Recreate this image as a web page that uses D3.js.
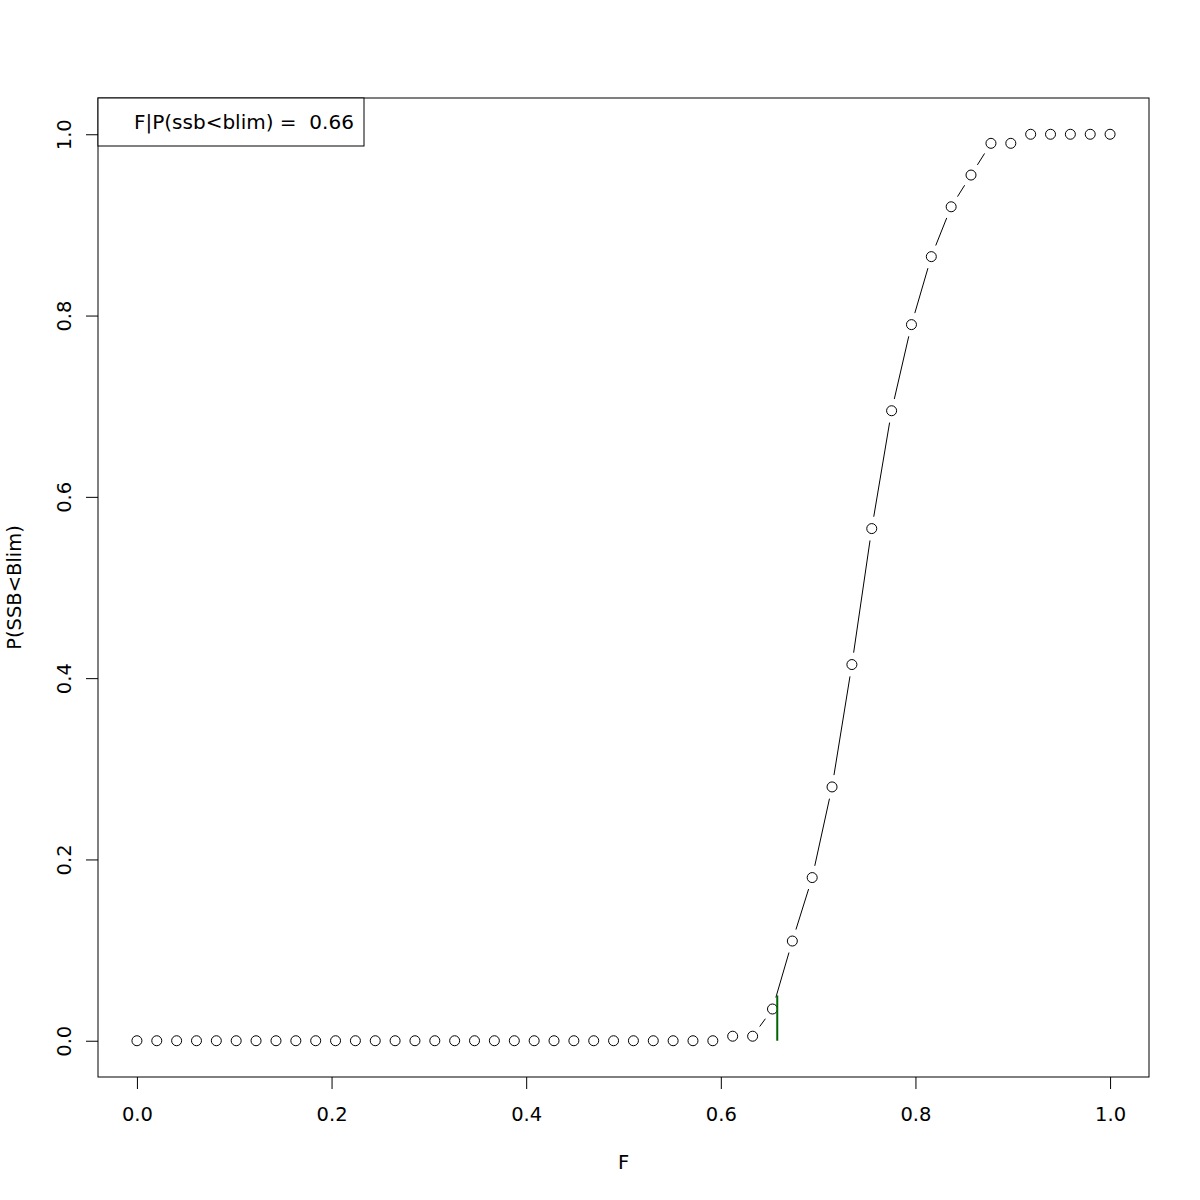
<!DOCTYPE html>
<html><head><meta charset="utf-8">
<script src="https://cdn.jsdelivr.net/npm/d3@7"></script>
<style>body{margin:0;background:#fff}svg{display:block}text{font-family:"DejaVu Sans",sans-serif;fill:#000}</style>
</head><body>
<script>
const fValues = [0, 0.0204, 0.0408, 0.0612, 0.0816, 0.1020, 0.1224, 0.1429, 0.1633, 0.1837,
  0.2041, 0.2245, 0.2449, 0.2653, 0.2857, 0.3061, 0.3265, 0.3469, 0.3673, 0.3878,
  0.4082, 0.4286, 0.4490, 0.4694, 0.4898, 0.5102, 0.5306, 0.5510, 0.5714, 0.5918,
  0.6122, 0.6327, 0.6531, 0.6735, 0.6939, 0.7143, 0.7347, 0.7551, 0.7755, 0.7959,
  0.8163, 0.8367, 0.8571, 0.8776, 0.8980, 0.9184, 0.9388, 0.9592, 0.9796, 1.0];
const pValues = [0,0,0,0,0,0,0,0,0,0, 0,0,0,0,0,0,0,0,0,0, 0,0,0,0,0,0,0,0,0,0,
  0.005, 0.005, 0.035, 0.11, 0.18, 0.28, 0.415, 0.565, 0.695, 0.79,
  0.865, 0.92, 0.955, 0.99, 0.99, 1.0, 1.0, 1.0, 1.0, 1.0];
const xTicks = [0, 0.2, 0.4, 0.6, 0.8, 1.0];
const yTicks = [0, 0.2, 0.4, 0.6, 0.8, 1.0];
const fLim = 0.658;
const pMarker = 0.05;
const legendLabel = "F|P(ssb<blim) =  0.66";

const W = 1200, H = 1200, FS = 19.5;
const L = 98, R = 1149, T = 98, B = 1077;
const svg = d3.select("body").append("svg").attr("width", W).attr("height", H);
const x = d3.scaleLinear().domain([-0.04, 1.04]).range([L, R]);
const y = d3.scaleLinear().domain([-0.04, 1.04]).range([B, T]);

// box
svg.append("rect").attr("x", L).attr("y", T).attr("width", R - L).attr("height", B - T)
  .attr("fill", "none").attr("stroke", "#000").attr("stroke-width", 1);

// axes
const xa = svg.append("g").attr("transform", `translate(0,${B})`)
  .call(d3.axisBottom(x).tickValues(xTicks).tickFormat(d3.format(".1f")).tickSize(12));
const ya = svg.append("g").attr("transform", `translate(${L},0)`)
  .call(d3.axisLeft(y).tickValues(yTicks).tickFormat(d3.format(".1f")).tickSize(12));
[xa, ya].forEach(g => {
  g.select(".domain").remove();
  g.selectAll("text").attr("font-size", FS).attr("font-family", "DejaVu Sans").attr("fill", "#000");
  g.selectAll("line").attr("stroke", "#000");
});
xa.selectAll(".tick text").attr("y", 44).attr("dy", 0);
ya.selectAll(".tick text").attr("transform", "rotate(-90)").attr("x", 0).attr("y", -27)
  .attr("dy", 0).attr("text-anchor", "middle");

// axis titles
svg.append("text").attr("x", (L + R) / 2).attr("y", 1169).attr("text-anchor", "middle")
  .attr("font-size", FS).text("F");
svg.append("text").attr("transform", `translate(21,${(T + B) / 2}) rotate(-90)`)
  .attr("text-anchor", "middle").attr("font-size", FS).text("P(SSB<Blim)");

// type "b" line segments with gaps
const gap = 12;
const pts = fValues.map((f, i) => [x(f), y(pValues[i])]);
const segs = [];
for (let i = 0; i < pts.length - 1; i++) {
  const [x0, y0] = pts[i], [x1, y1] = pts[i + 1];
  const len = Math.hypot(x1 - x0, y1 - y0);
  if (len > 2 * gap) {
    const ux = (x1 - x0) / len, uy = (y1 - y0) / len;
    segs.push([x0 + ux * gap, y0 + uy * gap, x1 - ux * gap, y1 - uy * gap]);
  }
}
svg.append("g").selectAll("line").data(segs).join("line")
  .attr("x1", d => d[0]).attr("y1", d => d[1]).attr("x2", d => d[2]).attr("y2", d => d[3])
  .attr("stroke", "#000").attr("stroke-width", 1);

// points
svg.append("g").selectAll("circle").data(fValues).join("circle")
  .attr("cx", d => x(d)).attr("cy", (d, i) => y(pValues[i])).attr("r", 5)
  .attr("fill", "none").attr("stroke", "#000").attr("stroke-width", 1);

// marker line
svg.append("line").attr("x1", x(fLim)).attr("x2", x(fLim)).attr("y1", y(0)).attr("y2", y(pMarker))
  .attr("stroke", "#006400").attr("stroke-width", 2);

// legend
svg.append("rect").attr("x", L).attr("y", T).attr("width", 266).attr("height", 48)
  .attr("fill", "#fff").attr("stroke", "#000").attr("stroke-width", 1);
svg.append("text").attr("x", 134).attr("y", 129).attr("font-size", 20)
  .style("white-space", "pre").text(legendLabel);
</script>
</body></html>
